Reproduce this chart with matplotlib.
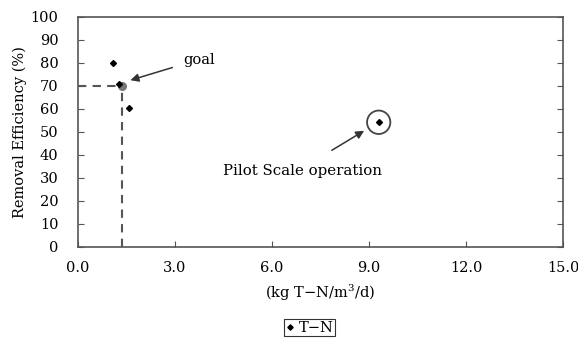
import matplotlib
matplotlib.use('Agg')
import matplotlib.pyplot as plt
from matplotlib.patches import Ellipse

plt.rcParams['font.family'] = ['DejaVu Serif']
plt.rcParams['mathtext.fontset'] = 'dejavuserif'

# data
load_tn = [1.08, 1.28, 1.58, 9.3]
eff_tn = [80, 71, 60.6, 54.2]
goal_x, goal_y = 1.35, 70
x_ticks = [0, 3, 6, 9, 12, 15]
y_ticks = list(range(0, 101, 10))

fig = plt.figure(figsize=(5.78, 3.40), dpi=100)
ax = fig.add_axes([0.135, 0.274, 0.839, 0.676])

# dashed goal guide lines
ax.plot([0, goal_x], [goal_y, goal_y], color='#555555', ls=(0, (4, 3)), lw=1.5, zorder=1)
ax.plot([goal_x, goal_x], [0, goal_y], color='#555555', ls=(0, (4, 3)), lw=1.5, zorder=1)

ax.plot(load_tn, eff_tn, 'D', color='black', markersize=3, ls='none', label='T\u2212N', zorder=3)
ax.plot([goal_x], [goal_y], 'o', color='#777777', markersize=5.5, zorder=2)

# circle around the pilot point (axes aspect not equal -> use ellipse in data units)
ax.add_patch(Ellipse((load_tn[3], eff_tn[3]), width=0.72, height=10.2,
                     fill=False, ec='#444444', lw=1.3, zorder=2))

ax.annotate('goal', xy=(1.62, 72.5), xytext=(3.25, 81.5),
            fontsize=10.5, va='center', ha='left',
            arrowprops=dict(arrowstyle='-|>', color='#333333', lw=1.1,
                            shrinkA=6, shrinkB=0, mutation_scale=12))
ax.annotate('', xy=(8.85, 50.5), xytext=(7.85, 42),
            arrowprops=dict(arrowstyle='-|>', color='#333333', lw=1.1,
                            shrinkA=0, shrinkB=0, mutation_scale=12))
ax.text(6.94, 33, 'Pilot Scale operation', fontsize=10.8, ha='center', va='center')

ax.set_xlim(0, 15)
ax.set_ylim(0, 100)
ax.set_xticks(x_ticks)
ax.set_xticklabels([f'{v:.1f}' for v in x_ticks], fontsize=10.5)
ax.set_yticks(y_ticks)
ax.set_yticklabels([str(v) for v in y_ticks], fontsize=10.5)
ax.tick_params(direction='in', length=4, color='#555555', right=True)
ax.tick_params(axis='x', pad=10)
ax.tick_params(axis='y', pad=14)
for s in ax.spines.values():
    s.set_color('#555555')
    s.set_linewidth(1.2)

ax.set_xlabel('(kg T\u2212N/m$^3$/d)', fontsize=10.5, labelpad=6)
ax.set_ylabel('Removal Efficiency (%)', fontsize=10.5, labelpad=3)

leg = ax.legend(loc='upper center', bbox_to_anchor=(0.478, -0.315), frameon=True,
                fancybox=False, edgecolor='black', fontsize=10.5, handlelength=0.6,
                handletextpad=0.3, borderpad=0.1, borderaxespad=0, markerscale=0.9)
leg.get_frame().set_linewidth(0.8)

fig.savefig('out.png', dpi=100)
